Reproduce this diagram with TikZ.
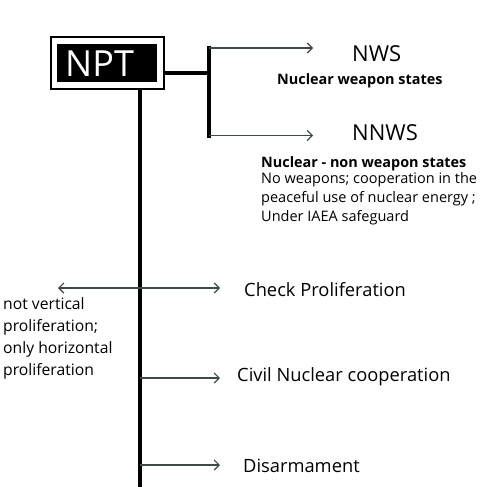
\documentclass[tikz,border=0pt]{standalone}
\usepackage{fontspec}
\setmainfont{Open Sans}
\usetikzlibrary{arrows.meta}
\definecolor{arr}{HTML}{3C4A48}
\tikzset{
  thick line/.style={line width=4.5pt, black},
  arrline/.style={line width=1.2pt, arr, -{Straight Barb[length=5pt,width=10pt]}},
  darrline/.style={line width=1.2pt, arr, {Straight Barb[length=5pt,width=10pt]}-{Straight Barb[length=5pt,width=10pt]}},
  lbl/.style={inner sep=0pt, anchor=base west},
  big/.style={font=\fontsize{22}{22}\selectfont},
  mid/.style={font=\fontsize{18.3}{18.3}\selectfont},
  bold/.style={font=\bfseries\fontsize{14.4}{14.4}\selectfont},
}
\begin{document}
\begin{tikzpicture}[x=1pt,y=-1pt]
\useasboundingbox (0,0) rectangle (500,500);
% NPT box
\node[draw=black, line width=1.5pt, fill=white, minimum width=113pt, minimum height=52pt, inner sep=0pt] (box) at (107.5,63) {};
\node[fill=black, minimum width=100pt, minimum height=38pt, inner sep=0pt] (inner) at (107,63) {};
\node[lbl, text=white, font=\fontsize{36}{36}\selectfont] (npt) at (65,77) {NPT};
% junction
\coordinate (jt) at (209,46);
\coordinate (jb) at (209,138);
\coordinate (jm) at (209,73);
\draw[thick line] (box.east |- jm) -- (jm);
\draw[thick line] (jt) -- (jb);
\coordinate (a1) at (209,48);
\coordinate (a2) at (209,135.5);
\node[lbl, big] (nws) at (352,62) {NWS};
\node[lbl, bold] (nwsd) at (277,85) {Nuclear weapon states};
\node[lbl, big] (nnws) at (352,140) {NNWS};
\node[lbl, bold] (nnwsd) at (261,167) {Nuclear - non weapon states};
\node[lbl, font=\fontsize{14.5}{19}\selectfont, align=left, anchor=north west] (nnwst) at (261,172) {No weapons; cooperation in the\\peaceful use of nuclear energy ;\\Under IAEA safeguard};
\coordinate (e1) at (313,48);
\coordinate (e2) at (313,135.5);
\draw[arrline] (a1) -- (e1);
\draw[arrline] (a2) -- (e2);
% main vertical
\coordinate (vt) at (140,89);
\coordinate (vb) at (140,487);
\draw[thick line] (vt) -- (vb);
% branches
\coordinate (cl) at (58,288);
\coordinate (cr) at (220,288);
\draw[darrline] (cl) -- (cr);
\node[lbl, mid] (check) at (244,296) {Check Proliferation};
\node[lbl, font=\fontsize{15.7}{22}\selectfont, align=left, anchor=north west] (left) at (3,297) {not vertical\\proliferation;\\only horizontal\\proliferation};
\coordinate (c1) at (140,378);
\coordinate (c2) at (220,378);
\draw[arrline] (c1) -- (c2);
\node[lbl, mid] (civil) at (237,381) {Civil Nuclear cooperation};
\coordinate (d1) at (140,465);
\coordinate (d2) at (220,465);
\draw[arrline] (d1) -- (d2);
\node[lbl, mid] (dis) at (243,472) {Disarmament};
\end{tikzpicture}
\end{document}
